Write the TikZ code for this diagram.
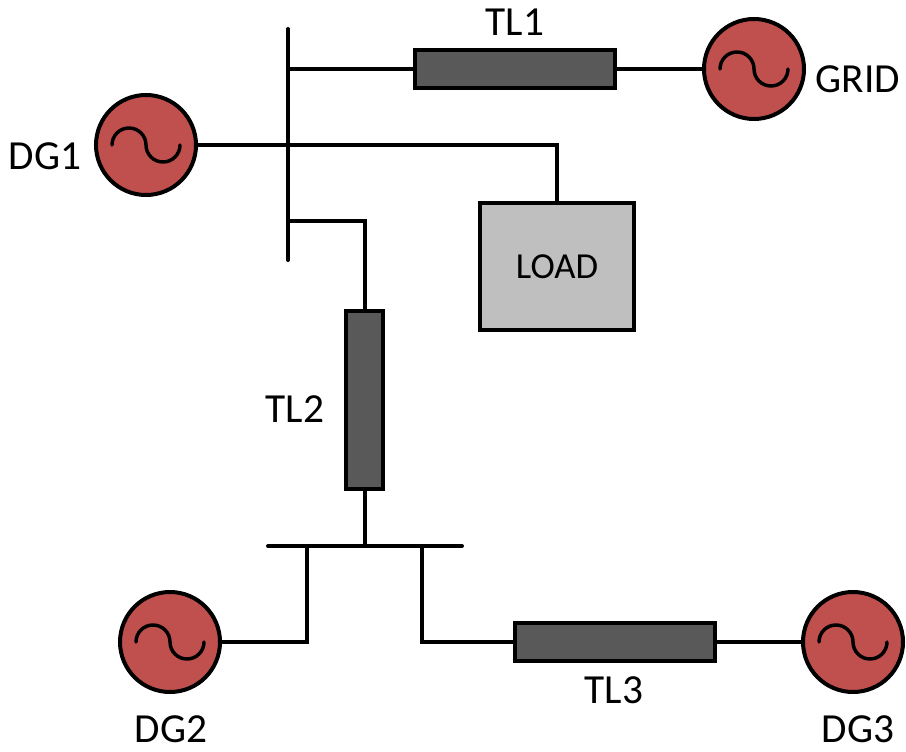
\documentclass[tikz,border=0pt]{standalone}
\usepackage{fontspec}
\setmainfont{Carlito}
\definecolor{genred}{HTML}{C0504D}
\definecolor{linegray}{HTML}{595959}
\definecolor{loadgray}{HTML}{BFBFBF}
\tikzset{
    wire/.style={line width=3pt, line join=miter},
    busbar/.style={line width=3pt, line cap=round},
    gen/.style={circle, draw, line width=3pt, fill=genred, minimum size=75pt, inner sep=0pt},
    tline/.style={rectangle, draw, line width=3pt, fill=linegray, inner sep=0pt},
    loadbox/.style={rectangle, draw, line width=3pt, fill=loadgray, inner sep=0pt, minimum width=115pt, minimum height=95pt, font=\fontsize{27.5}{32}\selectfont},
    lbl/.style={font=\fontsize{31}{36}\selectfont, inner sep=0pt},
}
\begin{document}
\begin{tikzpicture}[x=0.75pt, y=0.75pt]
    \useasboundingbox (0,0) rectangle (906,751);

    \coordinate (bus1top) at (288,722);
    \coordinate (bus1bot) at (288,491);
    \coordinate (bus2left) at (268,205);
    \coordinate (bus2right) at (462,205);

    \node[gen] (dg1) at (146,606) {};
    \node[gen] (grid) at (754,682) {};
    \node[gen] (dg2) at (170,109) {};
    \node[gen] (dg3) at (853,109) {};
    \node[tline, minimum width=150pt, minimum height=28pt] (tl1) at (514.5,682) {};
    \node[tline, minimum width=28pt, minimum height=134pt] (tl2) at (364.5,351) {};
    \node[tline, minimum width=150pt, minimum height=28pt] (tl3) at (615,109) {};
    \node[loadbox] (load) at (557,484.5) {LOAD};

    \draw[busbar] (bus1top) -- (bus1bot);
    \draw[busbar] (bus2left) -- (bus2right);

    \draw[wire] (bus1top |- tl1.west) -- (tl1.west);
    \draw[wire] (tl1.east) -- (grid.west);
    \draw[wire] (dg1.east) -| (load.north);
    \draw[wire] (bus1top |- 0,530) -| (tl2.north);
    \draw[wire] (tl2.south) -- (tl2.south |- bus2left);
    \draw[wire] (dg2.east) -| (306.5,205);
    \draw[wire] (422,205) |- (tl3.west);
    \draw[wire] (tl3.east) -- (dg3.west);

    % sine inside each source
    \foreach \g in {dg1,grid,dg2,dg3} {
        \draw[line width=2.6pt, line cap=round] ([xshift=-25.5pt]\g.center) arc (180:0:12.75pt) arc (180:360:12.75pt);
    }

    \node[lbl] (tl1text) at (515,729) {TL1};
    \node[lbl] (gridtext) at (858,672) {GRID};
    \node[lbl] (dg1text) at (45,595) {DG1};
    \node[lbl] (tl2text) at (295,342) {TL2};
    \node[lbl] (tl3text) at (614,61) {TL3};
    \node[lbl] (dg2text) at (171,22) {DG2};
    \node[lbl] (dg3text) at (858,22) {DG3};
\end{tikzpicture}
\end{document}
